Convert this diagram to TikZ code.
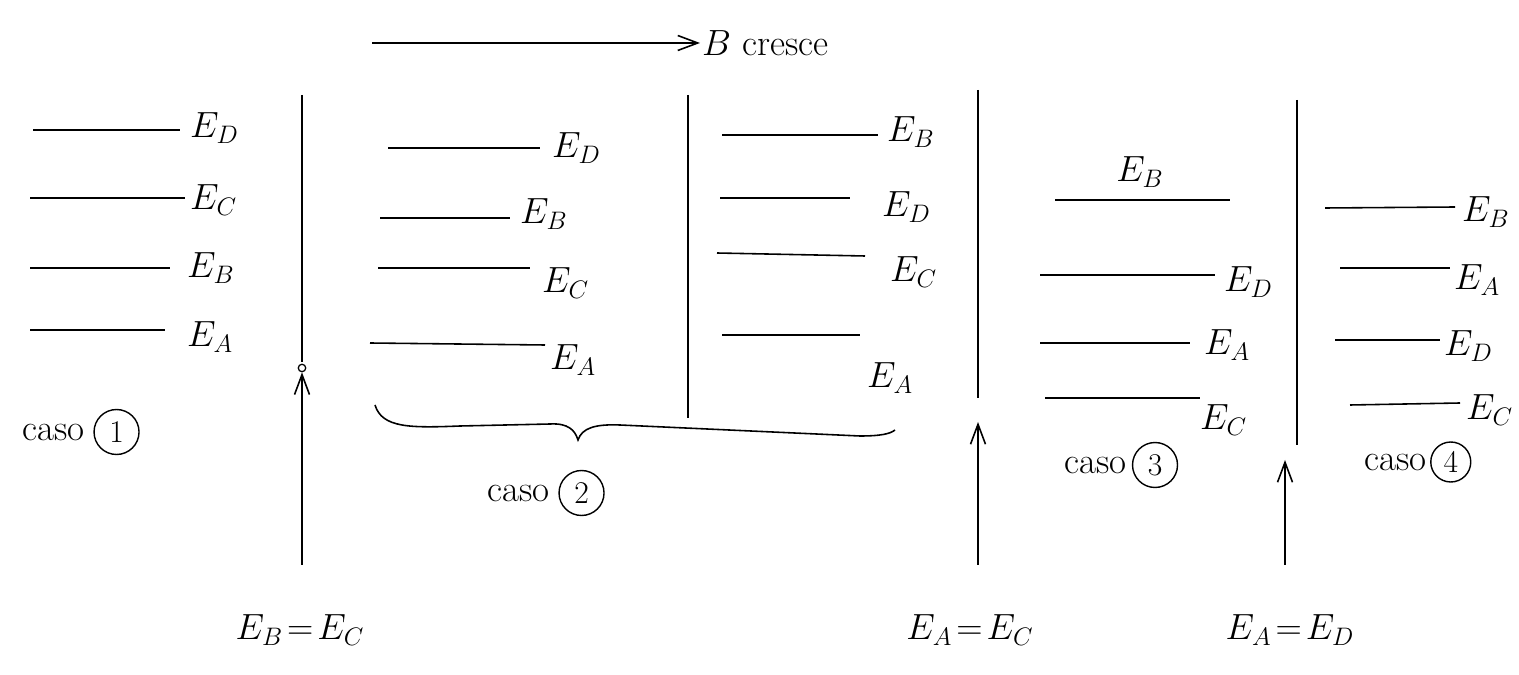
\documentclass[tikz,border=0pt]{standalone}
\usepackage{amssymb}
\usetikzlibrary{arrows.meta,positioning}
\begin{document}
\begin{tikzpicture}[x=0.02cm,y=-0.02cm,
  lvl/.style={line width=0.9pt},
  lab/.style={font=\fontsize{21}{24}\selectfont, inner sep=1pt},
  wall/.style={line width=0.9pt},
  up/.style={line width=0.9pt,-{Straight Barb[length=4mm,width=3mm]}},
  circ/.style={draw,circle,line width=0.8pt,inner sep=1pt,minimum size=0.9cm,font=\fontsize{18}{20}\selectfont}]
\useasboundingbox (0,0) rectangle (1519,675);
% top arrow
\coordinate (ta) at (372,43);
\node[lab,anchor=west] (bc) at (700,43) {$B$ cresce};
\draw[up] (ta) -- (bc.west);
% case 1
\node[lab,anchor=west] (d1) at (188,128) {$E_D$};
\node[lab,anchor=west] (c1) at (188,200) {$E_C$};
\node[lab,anchor=west] (b1) at (185,268) {$E_B$};
\node[lab,anchor=west] (a1) at (185,337) {$E_A$};
\draw[lvl] (33,130) -- (180,130);
\draw[lvl] (30,198) -- (185,198);
\draw[lvl] (30,268) -- (170,268);
\draw[lvl] (30,330) -- (165,330);
\node[lab,anchor=west] (k1) at (20,432) {caso};
\node[circ,right=4pt of k1] (n1) {1};
% wall 1
\coordinate (w1t) at (302,95);
\coordinate (w1b) at (302,362);
\draw[wall] (w1t) -- (w1b);
\node[draw,circle,inner sep=1.5pt,line width=0.7pt] (o1) at (302,368) {};
\coordinate (s1) at (302,565);
\draw[up] (s1) -- (o1.south);
\node[lab] (eq1) at (300,630) {$E_B\!=\!E_C$};
% case 2a
\node[lab,anchor=west] (d2) at (550,148) {$E_D$};
\node[lab,anchor=west] (b2) at (518,214) {$E_B$};
\node[lab,anchor=west] (c2) at (540,283) {$E_C$};
\node[lab,anchor=west] (a2) at (548,360) {$E_A$};
\draw[lvl] (388,148) -- (540,148);
\draw[lvl] (380,218) -- (510,218);
\draw[lvl] (378,268) -- (530,268);
\draw[lvl] (370,343) -- (545,345);
% wall 2
\coordinate (w2t) at (688,95);
\coordinate (w2b) at (688,418);
\draw[wall] (w2t) -- (w2b);
% case 2b
\node[lab,anchor=west] (b3) at (885,132) {$E_B$};
\node[lab,anchor=west] (d3) at (880,207) {$E_D$};
\node[lab,anchor=west] (c3) at (888,272) {$E_C$};
\node[lab,anchor=west] (a3) at (865,378) {$E_A$};
\draw[lvl] (722,135) -- (878,135);
\draw[lvl] (720,198) -- (850,198);
\draw[lvl] (717,253) -- (865,256);
\draw[lvl] (722,335) -- (860,335);
% brace
\coordinate (br1) at (375,405);
\coordinate (br2) at (895,430);
\coordinate (brt) at (578,440);
\draw[line width=0.9pt] (br1) .. controls (382,428) and (410,428) .. (460,426)
  -- (550,424) .. controls (568,423) and (575,430) .. (brt)
  .. controls (582,428) and (595,424) .. (620,425)
  -- (860,436) .. controls (880,436) and (890,434) .. (br2);
\node[lab,anchor=west] (k2) at (485,493) {caso};
\node[circ,right=4pt of k2] (n2) {2};
% wall 3
\coordinate (w3t) at (978,90);
\coordinate (w3b) at (978,398);
\draw[wall] (w3t) -- (w3b);
\coordinate (s3) at (978,565);
\coordinate (e3) at (978,422);
\draw[up] (s3) -- (e3);
\node[lab] (eq3) at (970,630) {$E_A\!=\!E_C$};
% case 3
\node[lab] (b4) at (1140,172) {$E_B$};
\node[lab,anchor=west] (d4) at (1222,282) {$E_D$};
\node[lab,anchor=west] (a4) at (1202,345) {$E_A$};
\node[lab,anchor=west] (c4) at (1198,420) {$E_C$};
\draw[lvl] (1055,200) -- (1230,200);
\draw[lvl] (1040,275) -- (1215,275);
\draw[lvl] (1040,343) -- (1190,343);
\draw[lvl] (1045,398) -- (1200,398);
\node[lab,anchor=west] (k3) at (1062,465) {caso};
\node[circ,right=2pt of k3] (n3) {3};
% wall 4
\coordinate (w4t) at (1297,100);
\coordinate (w4b) at (1297,445);
\draw[wall] (w4t) -- (w4b);
\coordinate (s4) at (1285,565);
\coordinate (e4) at (1285,460);
\draw[up] (s4) -- (e4);
\node[lab] (eq4) at (1290,630) {$E_A\!=\!E_D$};
% case 4
\node[lab,anchor=west] (b5) at (1460,212) {$E_B$};
\node[lab,anchor=west] (a5) at (1452,280) {$E_A$};
\node[lab,anchor=west] (d5) at (1442,346) {$E_D$};
\node[lab,anchor=west] (c5) at (1464,410) {$E_C$};
\draw[lvl] (1325,208) -- (1455,207);
\draw[lvl] (1340,268) -- (1450,268);
\draw[lvl] (1335,340) -- (1440,340);
\draw[lvl] (1350,405) -- (1460,403);
\node[lab,anchor=west] (k4) at (1362,462) {caso};
\node[circ,minimum size=0.8cm,right=1pt of k4] (n4) {4};
\end{tikzpicture}
\end{document}
